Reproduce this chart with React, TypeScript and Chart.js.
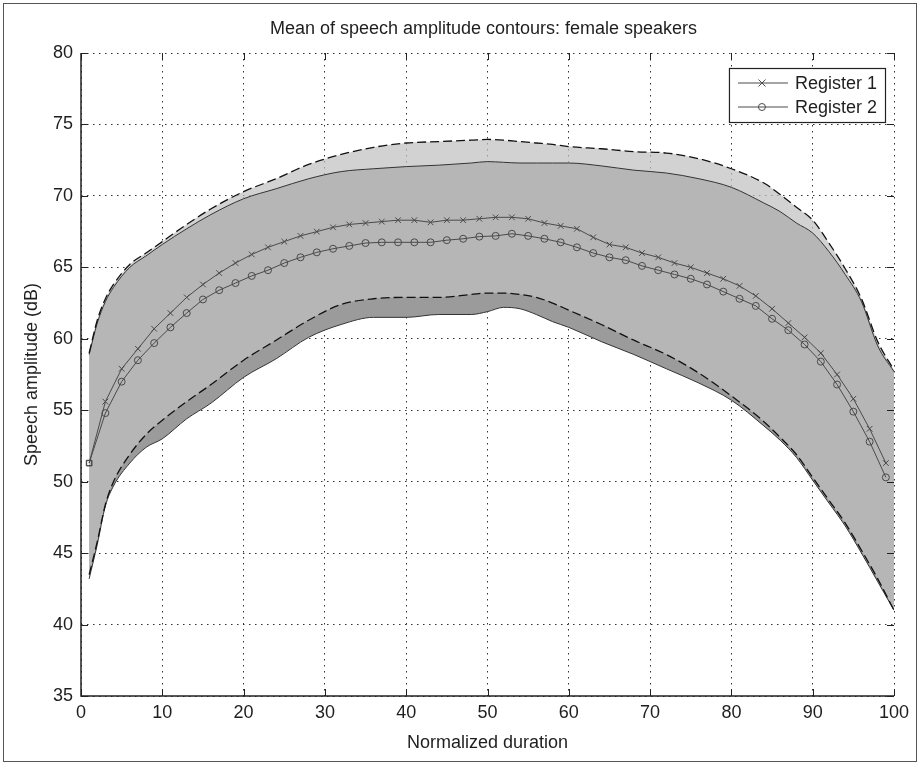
import React, { useEffect, useRef } from 'react';
import { Chart, registerables } from 'chart.js';

Chart.register(...registerables);

const TITLE = 'Mean of speech amplitude contours: female speakers';
const X_TITLE = 'Normalized duration';
const Y_TITLE = 'Speech amplitude (dB)';
const SERIES_NAMES = ['Register 1', 'Register 2'];

// Mean contours (markers every 2 units)
const meanX = [1, 3, 5, 7, 9, 11, 13, 15, 17, 19, 21, 23, 25, 27, 29, 31, 33, 35, 37, 39, 41, 43, 45, 47, 49,
  51, 53, 55, 57, 59, 61, 63, 65, 67, 69, 71, 73, 75, 77, 79, 81, 83, 85, 87, 89, 91, 93, 95, 97, 99];
const register1 = [51.3, 55.6, 57.9, 59.3, 60.7, 61.8, 62.9, 63.8, 64.6, 65.3, 65.9, 66.4, 66.8, 67.2, 67.5,
  67.8, 68.0, 68.1, 68.2, 68.3, 68.3, 68.15, 68.3, 68.3, 68.4, 68.5, 68.5, 68.4, 68.1, 67.9, 67.7, 67.1, 66.6,
  66.4, 66.0, 65.7, 65.3, 65.0, 64.6, 64.2, 63.7, 63.0, 62.1, 61.1, 60.1, 59.0, 57.5, 55.8, 53.7, 51.3];
const register2 = [51.3, 54.8, 57.0, 58.5, 59.7, 60.8, 61.8, 62.75, 63.4, 63.9, 64.4, 64.8, 65.3, 65.7, 66.05,
  66.3, 66.5, 66.7, 66.75, 66.75, 66.75, 66.75, 66.9, 67.0, 67.15, 67.2, 67.35, 67.2, 67.0, 66.75, 66.4, 66.0,
  65.7, 65.5, 65.1, 64.8, 64.5, 64.2, 63.8, 63.3, 62.8, 62.3, 61.4, 60.6, 59.6, 58.4, 56.8, 54.9, 52.8, 50.3];

// Spread bands
const bandX = [1, 2, 3, 4, 6, 8, 10, 13, 16, 20, 24, 28, 32, 36, 40, 44, 48, 50, 52, 54, 56, 58, 60, 64, 68,
  72, 76, 80, 84, 86, 88, 90, 92, 94, 96, 98, 100];
const reg1Upper = [59.0, 61.3, 62.8, 63.8, 65.2, 66.0, 66.8, 68.0, 69.1, 70.3, 71.2, 72.2, 72.9, 73.4, 73.7,
  73.8, 73.9, 73.95, 73.9, 73.8, 73.7, 73.6, 73.45, 73.3, 73.1, 73.0, 72.6, 71.9, 70.9, 70.1, 69.2, 68.3, 66.7,
  64.9, 62.8, 59.8, 57.8];
const reg2Upper = [58.9, 61.1, 62.6, 63.6, 65.0, 65.8, 66.6, 67.7, 68.7, 69.8, 70.5, 71.2, 71.7, 71.9, 72.05,
  72.15, 72.3, 72.4, 72.35, 72.3, 72.3, 72.3, 72.3, 72.1, 71.8, 71.6, 71.2, 70.6, 69.5, 68.9, 68.1, 67.4, 66.1,
  64.5, 62.6, 59.5, 57.7];
const reg1Lower = [43.5, 45.8, 48.4, 50.0, 51.9, 53.3, 54.3, 55.6, 56.8, 58.5, 59.9, 61.3, 62.4, 62.8, 62.9,
  62.9, 63.1, 63.2, 63.2, 63.1, 62.9, 62.5, 62.0, 61.0, 59.9, 58.9, 57.6, 56.0, 54.2, 53.1, 51.9, 50.3, 48.7,
  47.1, 45.2, 43.2, 41.0];
const reg2Lower = [43.2, 45.6, 48.3, 49.7, 51.3, 52.4, 53.0, 54.4, 55.5, 57.3, 58.6, 60.1, 61.0, 61.5, 61.5,
  61.7, 61.7, 61.9, 62.2, 62.1, 61.7, 61.2, 60.8, 59.8, 58.9, 57.9, 56.9, 55.7, 53.9, 52.9, 51.7, 50.1, 48.5,
  46.9, 45.0, 43.0, 41.0];

const X_MIN = 0, X_MAX = 100, X_STEP = 10;
const Y_MIN = 35, Y_MAX = 80, Y_STEP = 5;

const FONT = "'Liberation Sans', Arial, Helvetica, sans-serif";
const TEXT = '#1e1e1e';
const LINE = '#4a4a4a';

const pts = (xs: number[], ys: number[]) => xs.map((x, i) => ({ x, y: ys[i] }));

const framePlugin = {
  id: 'matlabFrame',
  afterDatasetsDraw(chart: any) {
    const { ctx, chartArea: ca, scales } = chart;
    const xs = scales.x, ys = scales.y;
    ctx.save();
    ctx.strokeStyle = '#222';
    ctx.lineWidth = 1;
    const tl = 7;
    xs.ticks.forEach((t: any) => {
      const px = Math.round(xs.getPixelForValue(t.value)) + 0.5;
      ctx.beginPath();
      ctx.moveTo(px, ca.bottom); ctx.lineTo(px, ca.bottom - tl);
      ctx.moveTo(px, ca.top); ctx.lineTo(px, ca.top + tl);
      ctx.stroke();
    });
    ys.ticks.forEach((t: any) => {
      const py = Math.round(ys.getPixelForValue(t.value)) + 0.5;
      ctx.beginPath();
      ctx.moveTo(ca.left, py); ctx.lineTo(ca.left + tl, py);
      ctx.moveTo(ca.right, py); ctx.lineTo(ca.right - tl, py);
      ctx.stroke();
    });
    ctx.lineWidth = 1.5;
    ctx.beginPath();
    ctx.moveTo(ca.left, ca.top);
    ctx.lineTo(ca.left, ca.bottom);
    ctx.lineTo(ca.right, ca.bottom);
    ctx.stroke();
    ctx.restore();
  },
  afterDraw(chart: any) {
    const { ctx, chartArea: ca } = chart;
    ctx.save();
    // title
    ctx.fillStyle = TEXT;
    ctx.font = `18px ${FONT}`;
    ctx.textAlign = 'center';
    ctx.textBaseline = 'middle';
    ctx.fillText(TITLE, (ca.left + ca.right) / 2 - 4, 29);

    // legend
    ctx.font = `18px ${FONT}`;
    const tw = Math.max(...SERIES_NAMES.map((s) => ctx.measureText(s).width));
    const w = 66 + tw + 8;
    const h = 54;
    const right = ca.right - 9;
    const left = right - w;
    const top = ca.top + 15;
    ctx.fillStyle = '#fff';
    ctx.fillRect(left, top, w, h);
    ctx.strokeStyle = '#222';
    ctx.lineWidth = 1.2;
    ctx.strokeRect(left + 0.5, top + 0.5, w, h);
    SERIES_NAMES.forEach((name, i) => {
      const cy = top + 15 + i * 24;
      ctx.strokeStyle = LINE;
      ctx.lineWidth = 1;
      ctx.beginPath();
      ctx.moveTo(left + 9, cy); ctx.lineTo(left + 59, cy);
      ctx.stroke();
      const mx = left + 33;
      ctx.beginPath();
      if (i === 0) {
        ctx.moveTo(mx - 3.5, cy - 3.5); ctx.lineTo(mx + 3.5, cy + 3.5);
        ctx.moveTo(mx - 3.5, cy + 3.5); ctx.lineTo(mx + 3.5, cy - 3.5);
      } else {
        ctx.arc(mx, cy, 3.5, 0, Math.PI * 2);
      }
      ctx.stroke();
      ctx.fillStyle = TEXT;
      ctx.textAlign = 'left';
      ctx.textBaseline = 'middle';
      ctx.fillText(name, left + 66, cy + 1);
    });
    ctx.restore();
  },
};

export default function App() {
  const ref = useRef<HTMLCanvasElement | null>(null);

  useEffect(() => {
    if (!ref.current) return;
    const bandEdge = {
      pointRadius: 0,
      cubicInterpolationMode: 'monotone',
    };
    const chart = new Chart(ref.current, {
      type: 'line',
      data: {
        datasets: [
          {
            label: SERIES_NAMES[0],
            data: pts(meanX, register1),
            borderColor: LINE,
            borderWidth: 1,
            pointStyle: (c: any) => (c.dataIndex === 0 ? 'rect' : 'crossRot'),
            pointRadius: 4,
            pointBorderColor: LINE,
            pointBorderWidth: 1,
            pointBackgroundColor: 'rgba(0,0,0,0)',
            fill: false,
          },
          {
            label: SERIES_NAMES[1],
            data: pts(meanX, register2),
            borderColor: LINE,
            borderWidth: 1,
            pointStyle: (c: any) => (c.dataIndex === 0 ? 'rect' : 'circle'),
            pointRadius: 3.5,
            pointBorderColor: LINE,
            pointBorderWidth: 1,
            pointBackgroundColor: 'rgba(0,0,0,0)',
            fill: false,
          },
          {
            label: 'R1 lower',
            data: pts(bandX, reg1Lower),
            borderColor: '#111',
            borderWidth: 1.3,
            borderDash: [9, 4],
            fill: false,
            ...bandEdge,
          },
          {
            label: 'R1 upper',
            data: pts(bandX, reg1Upper),
            borderColor: '#111',
            borderWidth: 1.3,
            borderDash: [9, 4],
            fill: '-1',
            backgroundColor: 'rgba(192,192,192,0.72)',
            ...bandEdge,
          },
          {
            label: 'R2 lower',
            data: pts(bandX, reg2Lower),
            borderColor: '#333',
            borderWidth: 1,
            fill: false,
            ...bandEdge,
          },
          {
            label: 'R2 upper',
            data: pts(bandX, reg2Upper),
            borderColor: '#333',
            borderWidth: 1,
            fill: '-1',
            backgroundColor: 'rgb(155,155,155)',
            ...bandEdge,
          },
        ],
      },
      options: {
        responsive: false,
        animation: false,
        devicePixelRatio: 1,
        layout: { padding: { top: 53, right: 26, bottom: 0, left: 0 } },
        plugins: {
          legend: { display: false },
          title: { display: false },
          tooltip: { enabled: false },
          filler: { drawTime: 'beforeDatasetsDraw' },
        },
        scales: {
          x: {
            type: 'linear',
            min: X_MIN,
            max: X_MAX,
            ticks: { stepSize: X_STEP, padding: 6, maxRotation: 0, color: TEXT, font: { size: 18, family: FONT } },
            grid: { color: '#333', lineWidth: 1, drawTicks: false },
            border: { display: false, dash: [1.5, 4.5] },
            title: {
              display: true,
              text: X_TITLE,
              color: TEXT,
              font: { size: 18, family: FONT },
              padding: { top: 0, bottom: 11 },
            },
            afterFit: (s: any) => { s.height = 69; },
          },
          y: {
            type: 'linear',
            min: Y_MIN,
            max: Y_MAX,
            ticks: { stepSize: Y_STEP, padding: 8, color: TEXT, font: { size: 18, family: FONT } },
            grid: { color: '#333', lineWidth: 1, drawTicks: false },
            border: { display: false, dash: [1.5, 4.5] },
            title: {
              display: true,
              text: Y_TITLE,
              color: TEXT,
              font: { size: 18, family: FONT },
              padding: { top: 21, bottom: 0 },
            },
            afterFit: (s: any) => { s.width = 81; },
          },
        },
      },
      plugins: [framePlugin],
    } as any);
    return () => chart.destroy();
  }, []);

  return (
    <div style={{ position: 'absolute', left: 0, top: 0, width: 920, height: 765, background: '#fff' }}>
      <canvas ref={ref} width={920} height={765} style={{ display: 'block', position: 'absolute', left: 0, top: 0 }} />
      <div
        style={{
          position: 'absolute',
          left: 3,
          top: 3,
          width: 914,
          height: 759,
          boxSizing: 'border-box',
          border: '1px solid #555',
          pointerEvents: 'none',
        }}
      />
    </div>
  );
}
